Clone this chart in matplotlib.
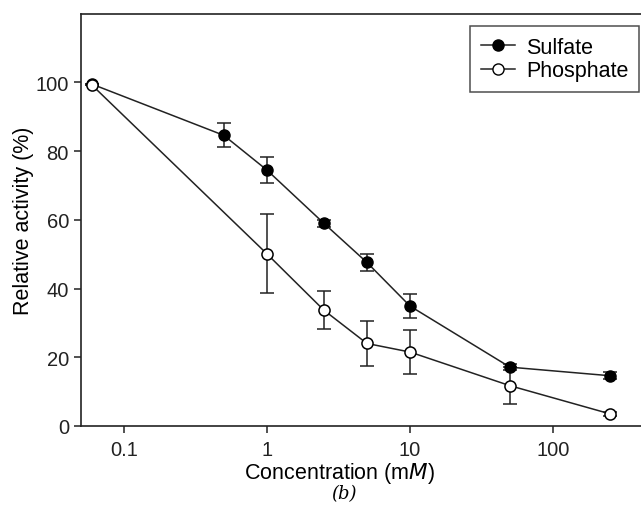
import matplotlib.pyplot as plt
from matplotlib.ticker import NullLocator, FixedLocator
from matplotlib.lines import Line2D

plt.rcParams['font.family'] = ['Liberation Sans', 'DejaVu Sans']

conc = [0.06, 0.5, 1, 2.5, 5, 10, 50, 250]
sulfate = [99.5, 84.6, 74.5, 59.0, 47.6, 34.9, 17.1, 14.6]
sulfate_err = [0, 3.5, 3.8, 1.0, 2.5, 3.4, 0.8, 1.0]

conc_p = [0.06, 1, 2.5, 5, 10, 50, 250]
phosphate = [99.2, 50.1, 33.7, 24.0, 21.5, 11.7, 3.5]
phosphate_err = [0, 11.5, 5.5, 6.5, 6.3, 5.3, 0.5]

xticks = [0.1, 1, 10, 100]
xticklabels = ['0.1', '1', '10', '100']
yticks = [0, 20, 40, 60, 80, 100]

fig = plt.figure(figsize=(6.41, 5.10), dpi=100)
ax = fig.add_axes([0.126, 0.163, 0.874, 0.808])

lc = '#222222'
ax.errorbar(conc, sulfate, yerr=sulfate_err, color=lc, lw=1.1, marker='o',
            ms=8, mfc='black', mec='black', capsize=5, elinewidth=1.1,
            capthick=1.1, zorder=3)
ax.errorbar(conc_p, phosphate, yerr=phosphate_err, color=lc, lw=1.1, marker='o',
            ms=8, mfc='white', mec='black', mew=1.1, capsize=5, elinewidth=1.1,
            capthick=1.1, zorder=3)

ax.set_xscale('log')
ax.set_xlim(0.05, 412)
ax.set_ylim(0, 120)
ax.xaxis.set_major_locator(FixedLocator(xticks))
ax.set_xticklabels(xticklabels)
ax.xaxis.set_minor_locator(NullLocator())
ax.set_yticks(yticks)

ax.spines['right'].set_visible(False)
for s in ['left', 'bottom', 'top']:
    ax.spines[s].set_linewidth(1.2)
    ax.spines[s].set_color(lc)
ax.tick_params(direction='out', length=5, width=1.1, labelsize=14.5, colors=lc)
ax.tick_params(axis='x', pad=5)

ax.set_xlabel('Concentration (m$\\it{M}$)', fontsize=15.5)
ax.xaxis.set_label_coords(0.4625, -0.083)
ax.set_ylabel('Relative activity (%)', fontsize=15.5, labelpad=1)

fig.text(0.536, 0.032, '(b)', fontsize=13, family='DejaVu Serif', style='italic',
         ha='center', va='center')

handles = [Line2D([], [], color=lc, lw=1.1, marker='o', ms=8, mfc='black', mec='black'),
           Line2D([], [], color=lc, lw=1.1, marker='o', ms=8, mfc='white', mec='black')]
leg = ax.legend(handles, ['Sulfate', 'Phosphate'], loc='upper left',
                bbox_to_anchor=(0.733, 0.947), bbox_transform=fig.transFigure,
                fontsize=15.5, frameon=True, fancybox=False, edgecolor=lc,
                handlelength=1.6, handletextpad=0.5, borderpad=0.5,
                labelspacing=0.12, borderaxespad=0)
leg.get_frame().set_linewidth(1.1)

fig.savefig('out.png', dpi=100)
